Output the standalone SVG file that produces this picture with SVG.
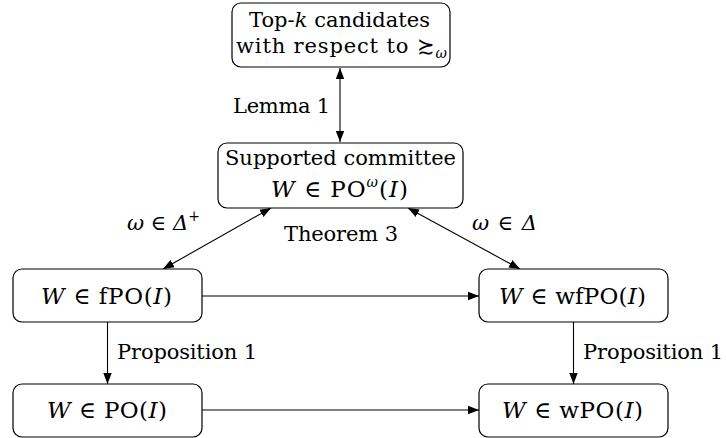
<svg xmlns="http://www.w3.org/2000/svg" width="726" height="438" viewBox="0 0 726 438">
<style>
.box{fill:#fff;stroke:#000;stroke-width:1.2}
.t{font-family:"DejaVu Serif","Liberation Serif",serif;font-size:21px;fill:#000;text-anchor:middle}
.m{font-size:23px}
.l{font-family:"DejaVu Serif","Liberation Serif",serif;font-size:21px;fill:#000}
.i{font-style:italic}
.s{font-size:14px}
.c{stroke:#000;stroke-width:1.1;fill:none}
</style>
<defs>
<marker id="ah" markerUnits="userSpaceOnUse" markerWidth="12" markerHeight="10" refX="11" refY="5" orient="auto-start-reverse">
<path d="M0,0.8 L11,5 L0,9.2 Z" fill="#000"/>
</marker>
</defs>
<g id="connectors">
<line class="c" x1="340" y1="68" x2="340" y2="142" marker-start="url(#ah)" marker-end="url(#ah)"/>
<line class="c" x1="271" y1="208" x2="163" y2="269" marker-start="url(#ah)" marker-end="url(#ah)"/>
<line class="c" x1="408" y1="208" x2="520" y2="269" marker-start="url(#ah)" marker-end="url(#ah)"/>
<line class="c" x1="202" y1="296" x2="479" y2="296" marker-end="url(#ah)"/>
<line class="c" x1="202" y1="410" x2="479" y2="410" marker-end="url(#ah)"/>
<line class="c" x1="107.5" y1="322" x2="107.5" y2="384" marker-end="url(#ah)"/>
<line class="c" x1="573.5" y1="322" x2="573.5" y2="384" marker-end="url(#ah)"/>
<text class="l" x="233" y="113" textLength="97">Lemma 1</text>
<text class="l" x="127" y="230" font-size="22"><tspan class="i">ω</tspan> ∈ <tspan class="i">Δ</tspan><tspan class="s" dy="-9">+</tspan></text>
<text class="l" x="284" y="241" textLength="114">Theorem 3</text>
<text class="l" x="472" y="230" font-size="22" textLength="65"><tspan class="i">ω</tspan> ∈ <tspan class="i">Δ</tspan></text>
<text class="l" x="117" y="359" textLength="140">Proposition 1</text>
<text class="l" x="583" y="359" textLength="140">Proposition 1</text>
</g>
<g id="topk">
<rect class="box" x="232" y="3" width="218" height="64" rx="9"/>
<text class="t" x="339.5" y="27" textLength="181">Top-<tspan class="i">k</tspan> candidates</text>
<text class="t" x="341.5" y="53" textLength="211">with respect to ≿<tspan class="s i" dy="5">ω</tspan></text>
</g>
<g id="supported">
<rect class="box" x="218" y="143" width="245" height="65" rx="9"/>
<text class="t" x="340.5" y="165" textLength="231">Supported committee</text>
<text class="t m" x="339.5" y="197" textLength="137"><tspan class="i">W</tspan> ∈ PO<tspan class="s i" dy="-10">ω</tspan><tspan dy="10">(</tspan><tspan class="i">I</tspan>)</text>
</g>
<g id="fpo">
<rect class="box" x="13" y="269" width="189" height="53" rx="9"/>
<text class="t m" x="106.5" y="304" textLength="131"><tspan class="i">W</tspan> ∈ fPO(<tspan class="i">I</tspan>)</text>
</g>
<g id="wfpo">
<rect class="box" x="479" y="269" width="189" height="53" rx="9"/>
<text class="t m" x="572.5" y="304" textLength="147"><tspan class="i">W</tspan> ∈ wfPO(<tspan class="i">I</tspan>)</text>
</g>
<g id="po">
<rect class="box" x="13" y="384" width="189" height="53" rx="9"/>
<text class="t m" x="107" y="418" textLength="120"><tspan class="i">W</tspan> ∈ PO(<tspan class="i">I</tspan>)</text>
</g>
<g id="wpo">
<rect class="box" x="479" y="384" width="189" height="53" rx="9"/>
<text class="t m" x="572.5" y="418" textLength="141"><tspan class="i">W</tspan> ∈ wPO(<tspan class="i">I</tspan>)</text>
</g>
</svg>
